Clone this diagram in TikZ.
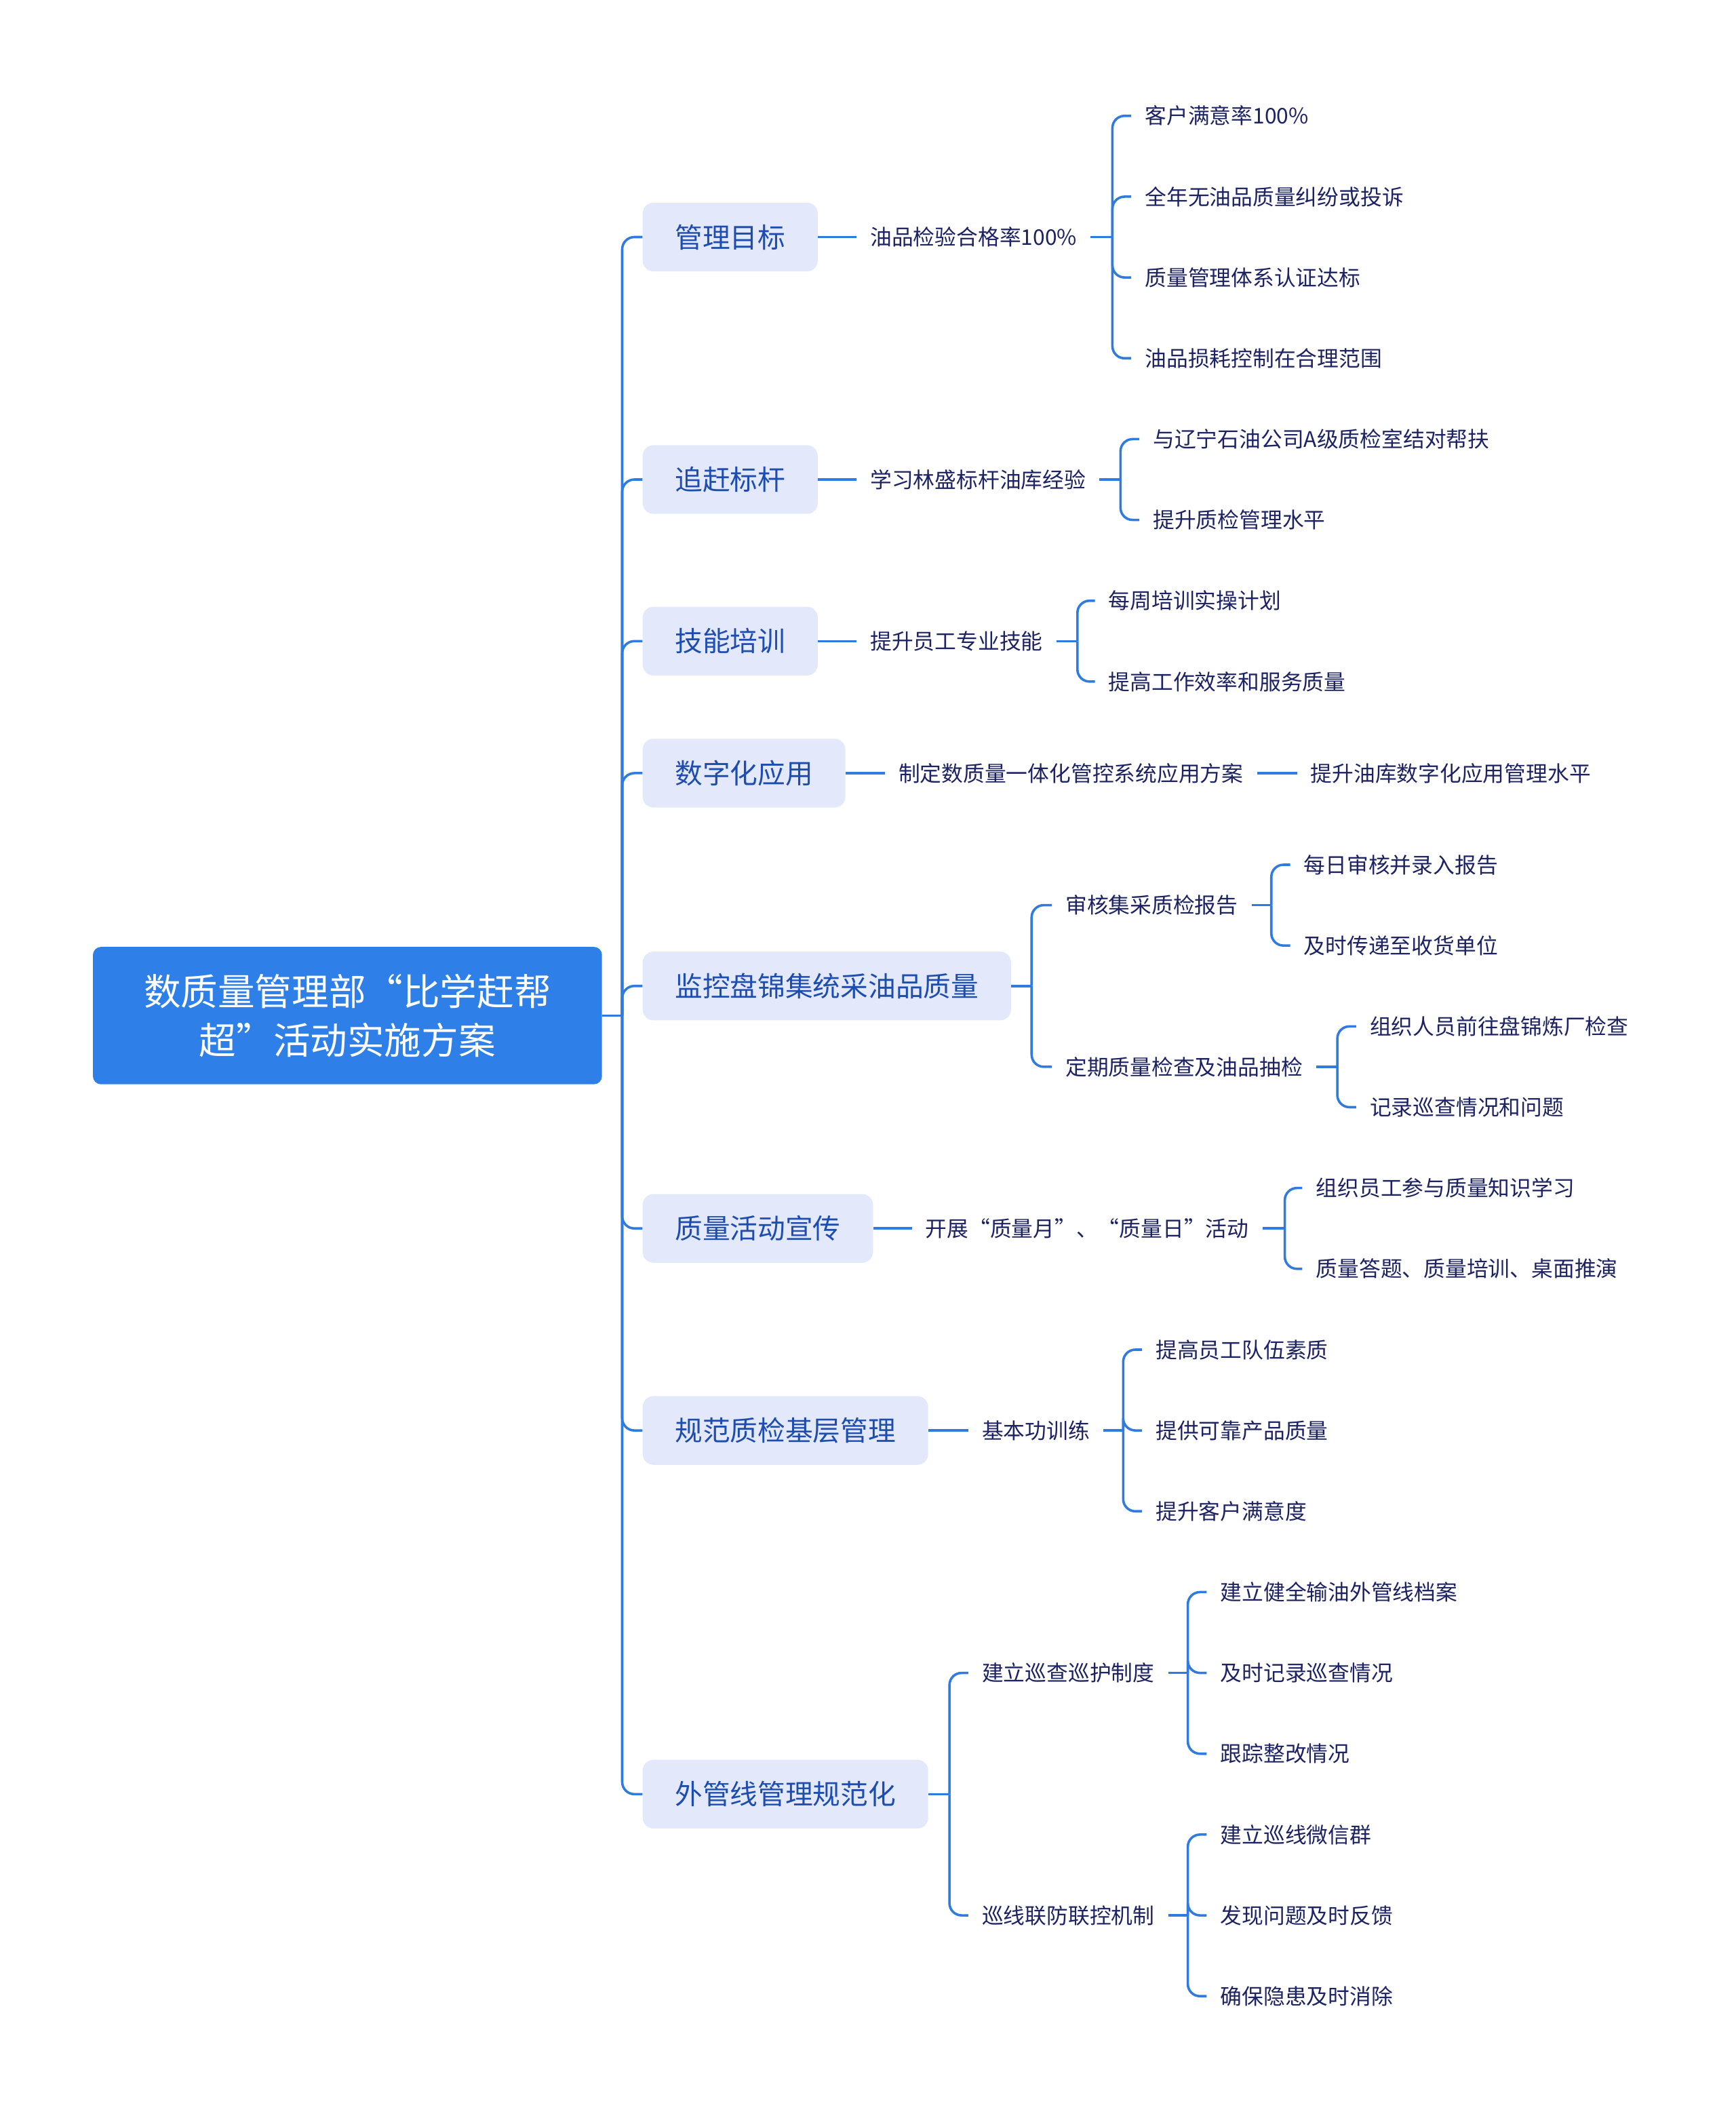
\documentclass[tikz,border=0pt]{standalone}
\usepackage{fontspec}
\setmainfont{Noto Sans CJK SC}
\usetikzlibrary{calc}
\definecolor{rootblue}{HTML}{2F7FE8}
\definecolor{linkblue}{HTML}{2F7BE0}
\definecolor{lvfill}{HTML}{E3E9FB}
\definecolor{lvtext}{HTML}{1E4DB0}
\definecolor{leaftext}{HTML}{1C2262}
\begin{document}
\begin{tikzpicture}[x=1pt,y=-1pt,
 rootnode/.style={fill=rootblue, text=white, rounded corners=6pt, minimum width=378pt, minimum height=102pt, align=center, font=\fontsize{27.5}{36}\selectfont, inner sep=0pt},
 topic/.style={fill=lvfill, text=lvtext, rounded corners=8pt, minimum height=51pt, inner xsep=24pt, inner ysep=0pt, anchor=west, font=\fontsize{20.5}{24}\selectfont},
 leaf/.style={text=leaftext, inner xsep=10pt, inner ysep=2pt, anchor=west, font=\fontsize{16}{19}\selectfont},
 conn/.style={draw=linkblue, line width=1.8pt},
 elbow/.style={conn, rounded corners=9pt}]
\useasboundingbox (0,0) rectangle (1289,1568);
% root
\node[rootnode] (root) at (258,754) {数质量管理部“比学赶帮\\超”活动实施方案};
% topics
\node[topic] (t1) at (477,176) {管理目标};
\node[topic] (t2) at (477,356) {追赶标杆};
\node[topic] (t3) at (477,476) {技能培训};
\node[topic] (t4) at (477,574) {数字化应用};
\node[topic] (t5) at (477,732) {监控盘锦集统采油品质量};
\node[topic] (t6) at (477,912) {质量活动宣传};
\node[topic] (t7) at (477,1062) {规范质检基层管理};
\node[topic] (t8) at (477,1332) {外管线管理规范化};
\coordinate (sp) at (462,754);
\draw[conn] (root.east) -- (sp);
\foreach \t in {t1,t2,t3,t4,t5,t6,t7,t8} \draw[elbow] (sp) |- (\t.west);
% t1
\node[leaf] (a1) at (636,176) {油品检验合格率100\%};
\node[leaf] (a1a) at (840,86) {客户满意率100\%};
\node[leaf] (a1b) at (840,146) {全年无油品质量纠纷或投诉};
\node[leaf] (a1c) at (840,206) {质量管理体系认证达标};
\node[leaf] (a1d) at (840,266) {油品损耗控制在合理范围};
\draw[conn] (t1.east) -- (a1.west);
\coordinate (b1) at (826,176);
\draw[conn] (a1.east) -- (b1);
\foreach \c in {a1a,a1b,a1c,a1d} \draw[elbow] (b1) |- (\c.west);
% t2
\node[leaf] (a2) at (636,356) {学习林盛标杆油库经验};
\node[leaf] (a2a) at (846,326) {与辽宁石油公司A级质检室结对帮扶};
\node[leaf] (a2b) at (846,386) {提升质检管理水平};
\draw[conn] (t2.east) -- (a2.west);
\coordinate (b2) at (832,356);
\draw[conn] (a2.east) -- (b2);
\foreach \c in {a2a,a2b} \draw[elbow] (b2) |- (\c.west);
% t3
\node[leaf] (a3) at (636,476) {提升员工专业技能};
\node[leaf] (a3a) at (813,446) {每周培训实操计划};
\node[leaf] (a3b) at (813,506) {提高工作效率和服务质量};
\draw[conn] (t3.east) -- (a3.west);
\coordinate (b3) at (800,476);
\draw[conn] (a3.east) -- (b3);
\foreach \c in {a3a,a3b} \draw[elbow] (b3) |- (\c.west);
% t4
\node[leaf] (a4) at (657,574) {制定数质量一体化管控系统应用方案};
\node[leaf] (a4a) at (963,574) {提升油库数字化应用管理水平};
\draw[conn] (t4.east) -- (a4.west);
\draw[conn] (a4.east) -- (a4a.west);
% t5
\node[leaf] (a5) at (781,672) {审核集采质检报告};
\node[leaf] (a6) at (781,792) {定期质量检查及油品抽检};
\coordinate (b5) at (766,732);
\draw[conn] (t5.east) -- (b5);
\foreach \c in {a5,a6} \draw[elbow] (b5) |- (\c.west);
\node[leaf] (a5a) at (958,642) {每日审核并录入报告};
\node[leaf] (a5b) at (958,702) {及时传递至收货单位};
\coordinate (b5a) at (944,672);
\draw[conn] (a5.east) -- (b5a);
\foreach \c in {a5a,a5b} \draw[elbow] (b5a) |- (\c.west);
\node[leaf] (a6a) at (1007,762) {组织人员前往盘锦炼厂检查};
\node[leaf] (a6b) at (1007,822) {记录巡查情况和问题};
\coordinate (b6a) at (993,792);
\draw[conn] (a6.east) -- (b6a);
\foreach \c in {a6a,a6b} \draw[elbow] (b6a) |- (\c.west);
% t6
\node[leaf] (a7) at (677,912) {开展“质量月”、“质量日”活动};
\node[leaf] (a7a) at (967,882) {组织员工参与质量知识学习};
\node[leaf] (a7b) at (967,942) {质量答题、质量培训、桌面推演};
\draw[conn] (t6.east) -- (a7.west);
\coordinate (b7) at (954,912);
\draw[conn] (a7.east) -- (b7);
\foreach \c in {a7a,a7b} \draw[elbow] (b7) |- (\c.west);
% t7
\node[leaf] (a8) at (719,1062) {基本功训练};
\node[leaf] (a8a) at (848,1002) {提高员工队伍素质};
\node[leaf] (a8b) at (848,1062) {提供可靠产品质量};
\node[leaf] (a8c) at (848,1122) {提升客户满意度};
\draw[conn] (t7.east) -- (a8.west);
\coordinate (b8) at (834,1062);
\draw[conn] (a8.east) -- (b8);
\foreach \c in {a8a,a8b,a8c} \draw[elbow] (b8) |- (\c.west);
% t8
\node[leaf] (a9) at (719,1242) {建立巡查巡护制度};
\node[leaf] (a10) at (719,1422) {巡线联防联控机制};
\coordinate (b9) at (705,1332);
\draw[conn] (t8.east) -- (b9);
\foreach \c in {a9,a10} \draw[elbow] (b9) |- (\c.west);
\node[leaf] (a9a) at (896,1182) {建立健全输油外管线档案};
\node[leaf] (a9b) at (896,1242) {及时记录巡查情况};
\node[leaf] (a9c) at (896,1302) {跟踪整改情况};
\coordinate (b9a) at (882,1242);
\draw[conn] (a9.east) -- (b9a);
\foreach \c in {a9a,a9b,a9c} \draw[elbow] (b9a) |- (\c.west);
\node[leaf] (a10a) at (896,1362) {建立巡线微信群};
\node[leaf] (a10b) at (896,1422) {发现问题及时反馈};
\node[leaf] (a10c) at (896,1482) {确保隐患及时消除};
\coordinate (b10a) at (882,1422);
\draw[conn] (a10.east) -- (b10a);
\foreach \c in {a10a,a10b,a10c} \draw[elbow] (b10a) |- (\c.west);
\end{tikzpicture}
\end{document}
